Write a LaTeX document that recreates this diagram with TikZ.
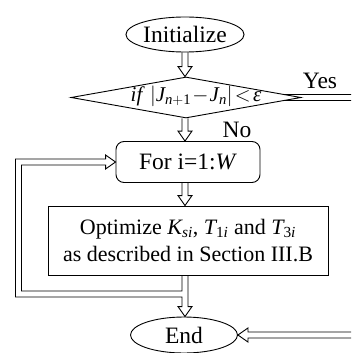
\documentclass[tikz,border=0pt]{standalone}
\usepackage{amsmath}
\usepackage{fontspec}
\setmainfont{Liberation Serif}
\usetikzlibrary{shapes.geometric,calc}
\newcommand\mi[1]{\text{\itshape #1}}
\newcommand\mr[1]{\text{\upshape #1}}
\newcommand\vharrow[2]{\draw[conn] ($(#1)+(-3,0)$) -- ($(#1 |- #2)+(-3,-10)$) -- ($(#1 |- #2)+(-7,-10)$) -- (#1 |- #2) -- ($(#1 |- #2)+(7,-10)$) -- ($(#1 |- #2)+(3,-10)$) -- ($(#1)+(3,0)$);}
\tikzset{
  conn/.style={draw, line width=0.9pt, line join=miter},
  shp/.style={draw, line width=0.9pt, inner sep=0pt},
  bigtext/.style={font=\fontsize{23.5}{26}\selectfont},
  midtext/.style={font=\fontsize{22}{27.5}\selectfont, align=center},
}
\begin{document}
\begin{tikzpicture}[x=1pt,y=-1pt]
\clip (0,0) rectangle (351,353);
\fill[white] (0,0) rectangle (351,353);
\node[shp, ellipse, minimum width=100pt, minimum height=35pt, bigtext] (init) at (185,34.5) {Initialize};
\node[shp, diamond, minimum width=230pt, minimum height=41pt] (dec) at (186,97.5) {};
\node[font=\fontsize{21}{23}\selectfont] (dectext) at (196,96.5) {\textit{if} $\left|\mi{J}_{\mi{n}+\mr{1}}\!-\!\mi{J}_{\mi{n}}\right|\!<\!\mi{ε}$};
\node[shp, rectangle, rounded corners=8pt, minimum width=144pt, minimum height=41pt, bigtext] (for) at (188,162) {For i=1:\textit{W}};
\node[shp, rectangle, minimum width=280pt, minimum height=69pt, midtext] (opt) at (188,240.5) {Optimize $\mi{K}_{\mi{si}}$, $\mi{T}_{\mr{1}\mi{i}}$ and $\mi{T}_{\mr{3}\mi{i}}$\\as described in Section III.B};
\node[shp, ellipse, minimum width=107pt, minimum height=36pt, bigtext] (end) at (184,335) {End};
\node[bigtext] (yes) at (320,81) {Yes};
\node[bigtext] (no) at (237,130) {No};
\coordinate (yesout) at (353,97.5);
\coordinate (lp) at (18.5,294);
\coordinate (ax) at (185,0);
% arrows
\vharrow{init.south}{dec.north}
\vharrow{ax |- dec.south}{for.north}
\vharrow{ax |- for.south}{opt.north}
% yes branch
\draw[conn] ($(dec.east)+(-17,-3)$) -- ($(yesout)+(0,-3)$);
\draw[conn] ($(dec.east)+(-17,3)$) -- ($(yesout)+(0,3)$);
% loop and arrow to end
\draw[conn] ($(ax |- opt.south)+(-3,0)$) -- ($(ax |- lp)+(-3,-3)$) -- ($(lp)+(3,-3)$) -- ($(lp |- for.west)+(3,3)$) -- ($(for.west)+(-10,3)$) -- ($(for.west)+(-10,7)$) -- (for.west) -- ($(for.west)+(-10,-7)$) -- ($(for.west)+(-10,-3)$) -- ($(lp |- for.west)+(-3,-3)$) -- ($(lp)+(-3,3)$) -- ($(ax |- lp)+(-3,3)$) -- ($(ax |- end.north)+(-3,-10)$) -- ($(ax |- end.north)+(-7,-10)$) -- (ax |- end.north) -- ($(ax |- end.north)+(7,-10)$) -- ($(ax |- end.north)+(3,-10)$) -- ($(ax |- opt.south)+(3,0)$);
% arrow into end from right
\draw[conn] ($(end.east -| yesout)+(0,-3)$) -- ($(end.east)+(10,-3)$) -- ($(end.east)+(10,-7)$) -- (end.east) -- ($(end.east)+(10,7)$) -- ($(end.east)+(10,3)$) -- ($(end.east -| yesout)+(0,3)$);
\end{tikzpicture}
\end{document}
